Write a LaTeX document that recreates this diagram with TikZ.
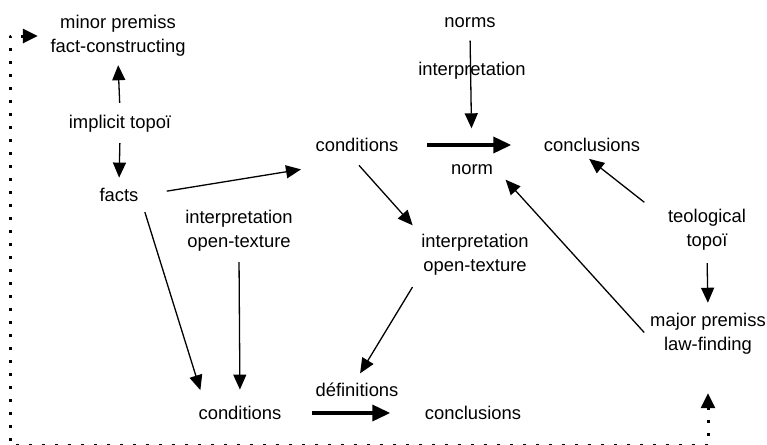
\documentclass[tikz,border=0pt]{standalone}
\usepackage{fontspec}
\setmainfont{Liberation Sans}
\usetikzlibrary{arrows.meta}
\begin{document}
\begin{tikzpicture}[>={Triangle[length=7.5pt,width=6.5pt]},line join=round,x=0.5pt,y=-0.5pt,
	font=\fontsize{9.2}{12}\selectfont,line width=0.65pt,
	every node/.style={align=center,inner sep=2pt},
	heavy/.style={->,line width=1.8pt,>={Triangle[length=9pt,width=8pt]}},
	dotline/.style={line width=1.5pt,dash pattern=on 1.5pt off 5pt,>={Triangle[length=7.5pt,width=7pt]}}]
		\useasboundingbox (0,0) rectangle (767,445);
		% left column
		\node (minor) at (118,36) {minor premiss\\fact-constructing};
		\node (topoi) at (120,124) {implicit topoï};
		\node (facts) at (119,195) {facts};
		% upper row
		\node (condA) at (357,145) {conditions};
		\node (norms) at (470,23) {norms};
		\node (interpN) at (472,71) {interpretation};
		\node (norm) at (472,170) {norm};
		\node (concA) at (592,145) {conclusions};
		\node (teol) at (707,230) {teological\\topoï};
		% middle
		\node (interpL) at (239,231) {interpretation\\open-texture};
		\node (interpM) at (475,255) {interpretation\\open-texture};
		\node (major) at (708,334) {major premiss\\law-finding};
		% lower row
		\node (defs) at (357,390) {définitions};
		\node (condB) at (240,413) {conditions};
		\node (concB) at (473,413) {conclusions};
		\draw[->,shorten <=4pt,shorten >=2pt] (topoi.north) -- (minor.south);
		\draw[->,shorten <=3pt,shorten >=3pt] (topoi.south) -- (facts.north);
		\draw[->,shorten <=12pt,shorten >=3pt] (facts.east) -- ([xshift=-2pt,yshift=-6pt]condA.south west);
		\draw[->,shorten <=6pt,shorten >=3pt] ([xshift=-3pt]condA.south) -- (interpM.north west);
		\draw[->,shorten <=4pt,shorten >=16pt] (norms.south) -- (norm.north);
		\draw[heavy,shorten <=12pt,shorten >=14pt] (condA.east) -- (concA.west);
		\draw[->,shorten <=2pt,shorten >=2pt] ([xshift=-8pt]teol.north west) -- ([xshift=-3pt]concA.south);
		\draw[->,shorten <=4pt,shorten >=3pt] (teol.south) -- (major.north);
		\draw[->,shorten <=1pt,shorten >=0pt] (major.west) -- ([xshift=4pt]norm.south east);
		\draw[->,shorten <=3pt,shorten >=6pt] (interpL.south) -- (condB.north);
		\draw[->,shorten <=3pt,shorten >=6pt] (facts.south east) -- ([xshift=5pt]condB.north west);
		\draw[->,shorten <=4pt,shorten >=3pt] (interpM.south west) -- (defs.north);
		\draw[heavy,shorten <=13pt,shorten >=15pt] (condB.east) -- (concB.west);
		% dotted loop back to the premisses
		\coordinate (lowL) at (10,445.5);
		\coordinate (lowR) at (major.south |- lowL);
		\draw[dotline,<->,shorten <=4pt,shorten >=17pt] (minor.west) -| (lowL) -- (lowR) -- (major.south);
\end{tikzpicture}
\end{document}
